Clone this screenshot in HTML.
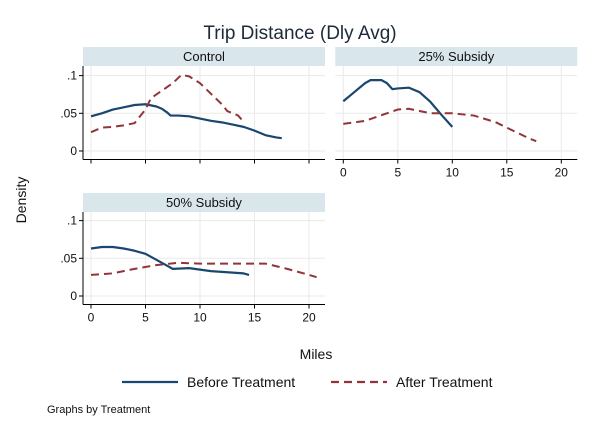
<!DOCTYPE html>
<html><head><meta charset="utf-8"><style>
body{margin:0;background:#fff;}
svg{display:block;font-family:"Liberation Sans",Arial,sans-serif;}
</style></head><body>
<svg id="chart" width="598" height="434" viewBox="0 0 598 434">
<rect width="598" height="434" fill="#fff"/>
<text x="300" y="39" text-anchor="middle" font-size="19" fill="#1e2a3a">Trip Distance (Dly Avg)</text>
<text transform="translate(26,200) rotate(-90)" text-anchor="middle" font-size="14" fill="#111">Density</text>
<text x="316" y="359" text-anchor="middle" font-size="14" fill="#111">Miles</text>
<g>
<g>
<line x1="122" y1="382" x2="178" y2="382" stroke="#1a476f" stroke-width="2.2"/>
<text x="187" y="387" font-size="14" fill="#111">Before Treatment</text></g>
<g>
<line x1="331" y1="382" x2="387" y2="382" stroke="#90353b" stroke-width="2.2" stroke-dasharray="8,5"/>
<text x="396" y="387" font-size="14" fill="#111">After Treatment</text></g>
</g>
<text x="47" y="413" font-size="11" fill="#111">Graphs by Treatment</text>
<g id="panels"></g>
</svg>
<script>
const panelTitles = ["Control", "25% Subsidy", "50% Subsidy"];
const xTicks = [0, 5, 10, 15, 20];
const yTicks = [0, 0.05, 0.1];
const yTickLabels = ["0", ".05", ".1"];
const ctrlBefore = [[0,.046],[1,.05],[2,.055],[3,.058],[4,.061],[5,.062],[6,.059],[6.5,.056],[7,.051],[7.3,.047],[8,.047],[9,.046],[10,.043],[11,.04],[12,.038],[13,.035],[14,.032],[15,.027],[16,.021],[17,.018],[17.5,.017]];
const ctrlAfter = [[0,.025],[1,.031],[2,.032],[3,.034],[4,.037],[5,.055],[5.5,.07],[6.5,.08],[7.5,.09],[8.3,.101],[9,.099],[10,.09],[11,.076],[12,.062],[12.5,.053],[13.5,.047],[14.1,.037]];
const sub25Before = [[0,.066],[1,.078],[2,.09],[2.5,.094],[3.5,.094],[4,.09],[4.5,.082],[5,.083],[6,.084],[7,.078],[8,.065],[9,.048],[10,.032]];
const sub25After = [[0,.036],[2,.04],[4,.05],[5,.055],[6,.056],[7,.053],[8,.05],[10,.05],[12,.047],[14,.038],[15,.031],[16,.024],[17,.017],[17.7,.013]];
const sub50Before = [[0,.063],[1,.065],[2,.065],[3,.063],[4,.06],[5,.056],[6,.048],[7,.04],[7.5,.036],[9,.037],[10,.035],[11,.033],[12,.032],[14,.03],[14.5,.028]];
const sub50After = [[0,.028],[2,.03],[4,.036],[6,.041],[8,.044],[10,.043],[14,.043],[16,.043],[18,.036],[19,.032],[20,.028],[20.7,.025]];

const NS = "http://www.w3.org/2000/svg";
const root = document.getElementById("panels");
function mk(tag, attrs, parent){const e=document.createElementNS(NS,tag);for(const k in attrs)e.setAttribute(k,attrs[k]);parent.appendChild(e);return e;}
const layouts = [
 {x0:91, top:47, y0:151, ylab:true, xlab:false, before:ctrlBefore, after:ctrlAfter},
 {x0:343.3, top:47, y0:151, ylab:false, xlab:true, before:sub25Before, after:sub25After},
 {x0:91, top:193, y0:296, ylab:true, xlab:true, before:sub50Before, after:sub50After}
];
const xs = 10.9, ys = 754;
layouts.forEach((L,i)=>{
  const g = mk("g",{},root);
  
  
  const X = v => L.x0 + v*xs;
  const Y = v => L.y0 - v*ys;
  const left = L.x0 - 8, right = L.x0 + 234;
  const hdr = mk("rect",{x:left,y:L.top,width:right-left,height:19,fill:"#d9e6eb"},g);
  
  
  const ht = mk("text",{x:(left+right)/2,y:L.top+14,"text-anchor":"middle","font-size":13,fill:"#111"},g);
  ht.textContent = panelTitles[i];
  
  
  const bottom = L.y0 + 8.5;
  xTicks.forEach(t=>{const l=mk("line",{x1:X(t),x2:X(t),y1:L.top+19,y2:bottom,stroke:"#eaeaea","stroke-width":1},g);
    
    });
  yTicks.forEach((t,j)=>{const l=mk("line",{x1:left,x2:right,y1:Y(t),y2:Y(t),stroke:"#eaeaea","stroke-width":1},g);
    
    
    if(L.ylab){
      mk("line",{x1:left-4,x2:left,y1:Y(t),y2:Y(t),stroke:"#000"},g);
      const tx=mk("text",{x:left-6,y:Y(t)+4,"text-anchor":"end","font-size":12,fill:"#111"},g);
      tx.textContent=yTickLabels[j];
      
      
    }});
  if(L.ylab){const a=mk("line",{x1:left,x2:left,y1:L.top+19,y2:bottom,stroke:"#000","stroke-width":1},g);
    
    }
  const ax=mk("line",{x1:left,x2:right,y1:bottom,y2:bottom,stroke:"#000","stroke-width":1},g);
  
  
  xTicks.forEach(t=>{mk("line",{x1:X(t),x2:X(t),y1:bottom,y2:bottom+4,stroke:"#000"},g);
    if(L.xlab){const tx=mk("text",{x:X(t),y:bottom+17,"text-anchor":"middle","font-size":12,fill:"#111"},g);
      tx.textContent=t;
      
      }});
  const pb = mk("polyline",{points:L.before.map(p=>X(p[0])+","+Y(p[1])).join(" "),fill:"none",stroke:"#1a476f","stroke-width":2.2,"stroke-linejoin":"round"},g);
  
  
  const pa = mk("polyline",{points:L.after.map(p=>X(p[0])+","+Y(p[1])).join(" "),fill:"none",stroke:"#90353b","stroke-width":2,"stroke-dasharray":"8,5"},g);
  
  
});
</script>
</body></html>
